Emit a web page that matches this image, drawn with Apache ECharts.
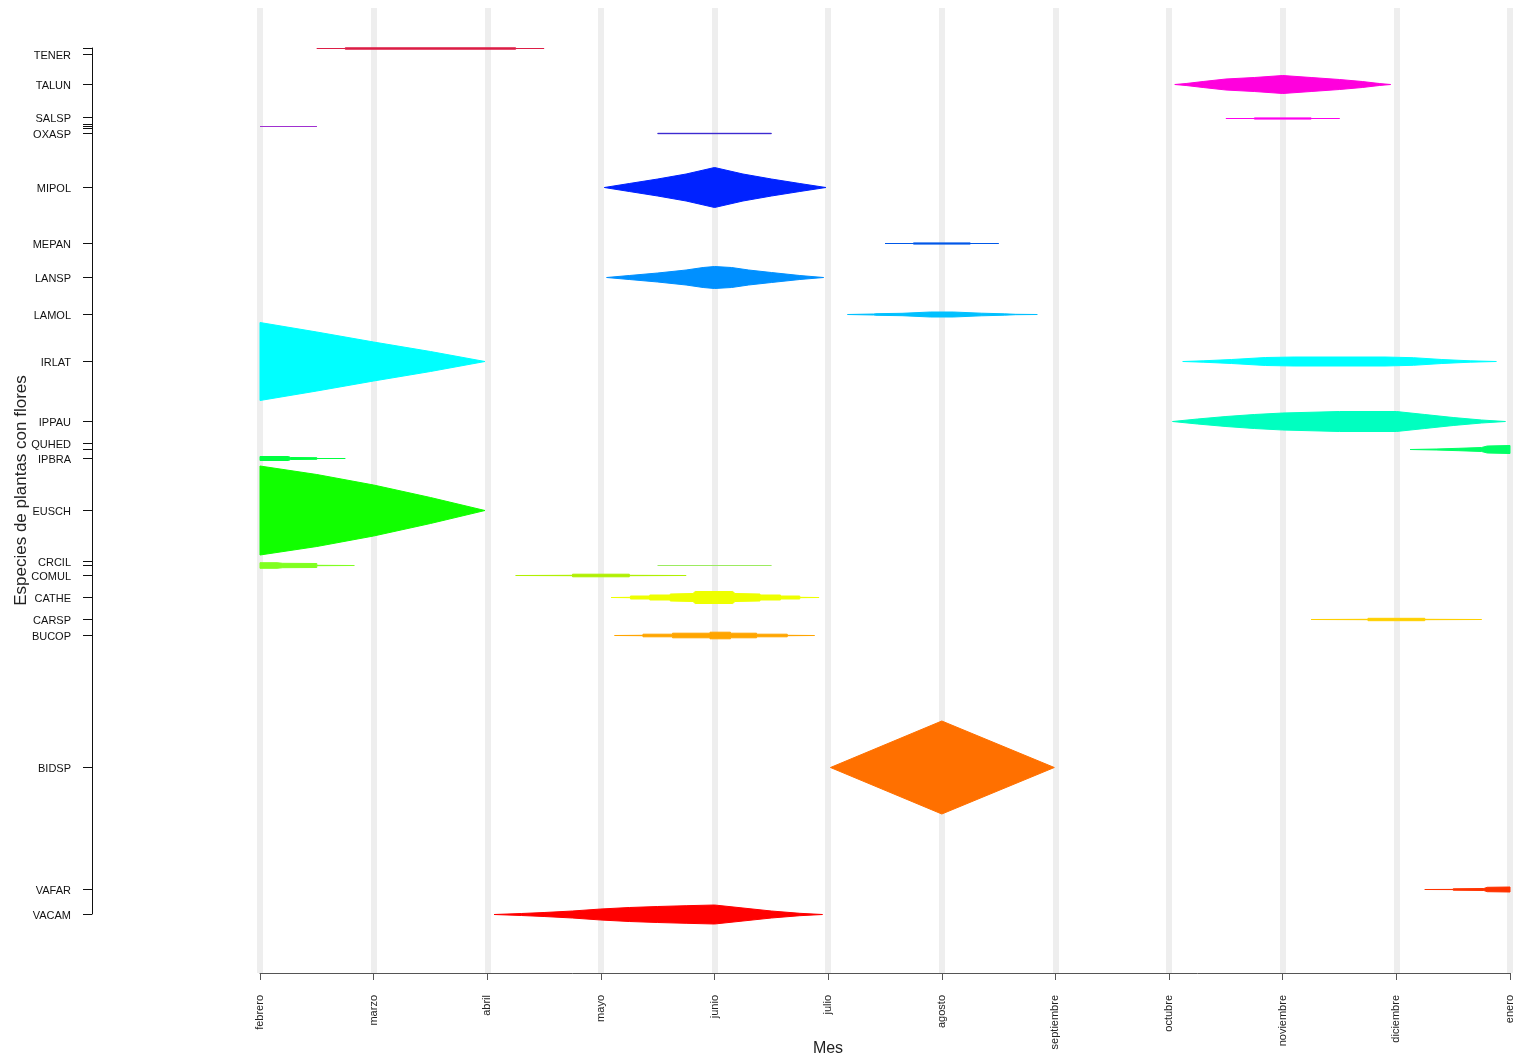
<!DOCTYPE html>
<html><head><meta charset="utf-8">
<script src="https://cdn.jsdelivr.net/npm/echarts@6/dist/echarts.min.js"></script>
<style>html,body{margin:0;padding:0;background:#fff}#c{width:1522px;height:1060px}</style>
</head><body><div id="c"></div>
<script>
// ---- categories / tick labels ----
const months = ['febrero','marzo','abril','mayo','junio','julio','agosto','septiembre','octubre','noviembre','diciembre','enero'];
const speciesNames = ['VACAM','VAFAR','BIDSP','BUCOP','CARSP','CATHE','COMUL','CRCIL','EUSCH','IPBRA','QUHED','IPPAU','IRLAT','LAMOL','LANSP','MEPAN','MIPOL','OXASP','SALSP','TALUN','TENER'];
const speciesPos   = [5.9, 8.4, 20.6, 33.8, 35.4, 37.6, 39.8, 41.2, 46.3, 51.5, 53.0, 55.2, 61.2, 65.9, 69.6, 73.0, 78.6, 84.0, 85.55, 88.9, 91.9];
// unlabeled ticks (labels overlap in the original)
const extraPos = [40.8, 52.4, 84.5, 84.7, 84.9, 92.5];

// ---- kite profiles: [month index, half-width] ----
const kiteX48   = [[0.5,0],[0.75,0],[0.75,0.07],[2.25,0.07],[2.25,0],[2.5,0]];
const kiteTALUN = [[8.05,0],[8.15,0.1],[8.3,0.3],[8.5,0.55],[8.75,0.7],[9,0.9],[9.25,0.7],[9.5,0.5],[9.7,0.3],[9.85,0.1],[9.95,0]];
const kiteSALSP = [[8.5,0],[8.75,0],[8.75,0.06],[9.25,0.06],[9.25,0],[9.5,0]];
const kiteX127  = [[0,0],[0.5,0]];
const kiteOXASP = [[3.5,0.02],[4.5,0.02]];
const kiteMIPOL = [[3.03,0],[3.25,0.4],[3.5,0.85],[3.75,1.35],[4,2.0],[4.25,1.35],[4.5,0.85],[4.75,0.4],[4.98,0]];
const kiteMEPAN = [[5.5,0],[5.75,0],[5.75,0.06],[6.25,0.06],[6.25,0],[6.5,0]];
const kiteLANSP = [[3.05,0],[3.25,0.2],[3.5,0.45],[3.75,0.75],[3.9,1.0],[4,1.1],[4.15,1.0],[4.3,0.75],[4.5,0.5],[4.75,0.2],[4.96,0]];
const kiteLAMOL = [[5.17,0],[5.4,0.05],[5.42,0.08],[5.65,0.12],[5.9,0.25],[6.1,0.25],[6.35,0.13],[6.55,0.07],[6.65,0.02],[6.84,0]];
const kiteIRLAT1 = [[0,3.9],[0.5,2.95],[1,1.95],[1.5,1.0],[1.98,0]];
const kiteIRLAT2 = [[8.12,0],[8.3,0.07],[8.55,0.2],[8.85,0.4],[9.1,0.45],[9.9,0.45],[10.15,0.38],[10.4,0.2],[10.65,0.07],[10.88,0]];
const kiteIPPAU = [[8.03,0],[8.25,0.25],[8.5,0.5],[8.75,0.7],[9,0.85],[9.5,1.0],[10,1.0],[10.25,0.7],[10.5,0.4],[10.75,0.15],[10.96,0]];
const kiteX449  = [[10.12,0],[10.35,0.05],[10.55,0.12],[10.75,0.2],[10.8,0.35],[11,0.4]];
const kiteIPBRA = [[0,0.2],[0.25,0.2],[0.27,0.1],[0.5,0.08],[0.5,0],[0.75,0]];
const kiteEUSCH = [[0,4.45],[0.5,3.6],[1,2.55],[1.5,1.3],[1.98,0]];
const kiteX565a = [[0,0.28],[0.15,0.28],[0.2,0.22],[0.5,0.2],[0.5,0.02],[0.83,0]];
const kiteX565b = [[3.5,0],[4.5,0]];
const kiteCOMUL = [[2.25,0],[2.75,0.02],[2.75,0.13],[3.25,0.13],[3.25,0.02],[3.75,0]];
const kiteCATHE = [[3.09,0],[3.26,0.02],[3.26,0.15],[3.43,0.15],[3.43,0.25],[3.61,0.25],[3.61,0.35],[3.81,0.4],[3.83,0.6],[4.16,0.6],[4.18,0.4],[4.4,0.35],[4.4,0.25],[4.58,0.25],[4.58,0.15],[4.75,0.15],[4.75,0.02],[4.92,0]];
const kiteCARSP = [[9.25,0],[9.75,0.02],[9.75,0.12],[10.25,0.12],[10.25,0.02],[10.75,0]];
const kiteBUCOP = [[3.12,0],[3.37,0.02],[3.37,0.13],[3.63,0.13],[3.63,0.23],[3.96,0.23],[3.96,0.33],[4.14,0.33],[4.14,0.23],[4.37,0.23],[4.37,0.13],[4.64,0.13],[4.64,0.02],[4.88,0]];
const kiteBIDSP = [[5.02,0],[6,4.65],[6.99,0]];
const kiteVAFAR = [[10.25,0],[10.5,0.01],[10.5,0.07],[10.77,0.1],[10.8,0.22],[11,0.25]];
const kiteVACAM = [[2.06,0],[2.3,0.1],[2.5,0.2],[2.75,0.35],[3,0.55],[3.25,0.7],[3.5,0.8],[3.75,0.88],[4,0.95],[4.25,0.65],[4.5,0.35],[4.75,0.12],[4.95,0]];

// kite list: [row position, profile, colour]
const kiteList = [
  [92.5, kiteX48, '#DC1E46'],
  [88.9, kiteTALUN, '#FF00DD'],
  [85.55, kiteSALSP, '#FF00EE'],
  [84.7, kiteX127, '#A030D0'],
  [84.0, kiteOXASP, '#3A28D0'],
  [78.6, kiteMIPOL, '#0022FF'],
  [73.0, kiteMEPAN, '#0058E8'],
  [69.6, kiteLANSP, '#0090FF'],
  [65.9, kiteLAMOL, '#00C0FF'],
  [61.2, kiteIRLAT1, '#00FFFF'],
  [61.2, kiteIRLAT2, '#00FFFF'],
  [55.2, kiteIPPAU, '#00FFC0'],
  [52.4, kiteX449, '#00FF66'],
  [51.5, kiteIPBRA, '#00FF40'],
  [46.3, kiteEUSCH, '#11FF00'],
  [40.8, kiteX565a, '#80FF20'],
  [40.8, kiteX565b, '#9CEB60'],
  [39.8, kiteCOMUL, '#B0F000'],
  [37.6, kiteCATHE, '#EEFF00'],
  [35.4, kiteCARSP, '#FFD000'],
  [33.8, kiteBUCOP, '#FFA500'],
  [20.6, kiteBIDSP, '#FF7000'],
  [8.4, kiteVAFAR, '#FF3300'],
  [5.9, kiteVACAM, '#FF0000']
];

const FONT = "'Liberation Sans', Arial, sans-serif";
const chart = echarts.init(document.getElementById('c'), null, {renderer: 'canvas'});
const labelMap = {};
speciesPos.forEach((p, i) => { labelMap[p.toFixed(2)] = speciesNames[i]; });

chart.setOption({
  animation: false,
  backgroundColor: '#fff',
  title: {
    text: 'Mes', left: 823, top: 1036, textAlign: 'center',
    textStyle: {fontFamily: FONT, fontSize: 16, fontWeight: 'normal', color: '#222'}
  },
  grid: [
    {left: 260, right: 12, top: 8, bottom: 87},
    {left: 92, width: 1, top: 48, bottom: 146}
  ],
  xAxis: [
    {
      type: 'value', gridIndex: 0, min: 0, max: 11, interval: 1,
      axisLine: {show: true, lineStyle: {color: '#555', width: 1}},
      axisTick: {show: true, length: 7, lineStyle: {color: '#555'}},
      axisLabel: {rotate: 90, margin: 22, fontFamily: FONT, fontSize: 11, color: '#222',
        formatter: v => months[Math.round(v)] || ''},
      splitLine: {show: true, lineStyle: {color: '#EEEEEE', width: 6}}
    },
    {type: 'value', gridIndex: 1, show: false, min: 0, max: 1}
  ],
  yAxis: [
    {
      type: 'value', gridIndex: 0, min: 0, max: 96.5,
      axisLine: {show: false}, axisTick: {show: false}, axisLabel: {show: false}, splitLine: {show: false},
      name: 'Especies de plantas con flores', nameLocation: 'middle', nameGap: 230,
      nameTextStyle: {fontFamily: FONT, fontSize: 17, color: '#222'}
    },
    {
      type: 'value', gridIndex: 1, min: 5.9, max: 92.5,
      axisLine: {show: true, lineStyle: {color: '#111', width: 1}},
      axisTick: {show: true, length: 9, lineStyle: {color: '#111'},
        customValues: speciesPos.concat(extraPos)},
      axisLabel: {show: true, margin: 21, fontFamily: FONT, fontSize: 11, color: '#111',
        verticalAlign: 'top', lineHeight: 3,
        customValues: speciesPos,
        formatter: v => labelMap[Number(v).toFixed(2)] || ''},
      splitLine: {show: false}
    }
  ],
  series: [{
    type: 'custom', xAxisIndex: 0, yAxisIndex: 0, silent: true, clip: false,
    data: kiteList.map(k => [k[1][0][0], k[0]]),
    renderItem: function (params, api) {
      const k = kiteList[params.dataIndex];
      const y = k[0], pts = k[1], col = k[2];
      const yc = Math.round(api.coord([0, y])[1]) + 0.5;
      const px = p => api.coord([p[0], y])[0];
      const ph = p => api.size([0, p[1]], [p[0], y])[1];
      const top = pts.map(p => [px(p), yc - ph(p)]);
      const bot = pts.slice().reverse().map(p => [px(p), yc + ph(p)]);
      return {type: 'polygon', shape: {points: top.concat(bot)},
        style: {fill: col, stroke: col, lineWidth: 1}};
    }
  }]
});
</script></body></html>
